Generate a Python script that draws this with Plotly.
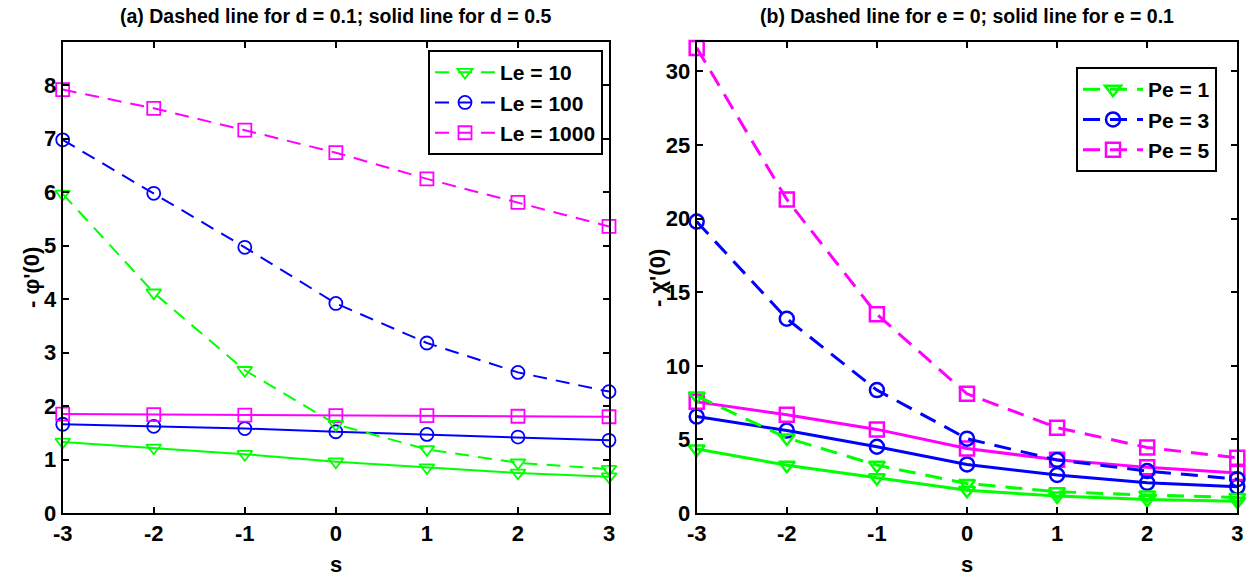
import plotly.graph_objects as go

# similarity variable
s = [-3, -2, -1, 0, 1, 2, 3]
s_labels = ["-3", "-2", "-1", "0", "1", "2", "3"]

# -phi'(0): dashed for d = 0.1, solid for d = 0.5
phi_le10_d01 = [5.97, 4.12, 2.67, 1.66, 1.19, 0.94, 0.82]
phi_le100_d01 = [6.98, 5.98, 4.97, 3.92, 3.18, 2.63, 2.27]
phi_le1000_d01 = [7.92, 7.57, 7.16, 6.74, 6.25, 5.81, 5.36]
phi_le10_d05 = [1.33, 1.22, 1.10, 0.96, 0.85, 0.75, 0.68]
phi_le100_d05 = [1.66, 1.62, 1.58, 1.52, 1.47, 1.42, 1.36]
phi_le1000_d05 = [1.85, 1.84, 1.83, 1.82, 1.82, 1.81, 1.80]

# -chi'(0): dashed for e = 0, solid for e = 0.1
chi_pe1_e0 = [7.95, 5.10, 3.25, 2.00, 1.45, 1.22, 1.05]
chi_pe3_e0 = [19.8, 13.2, 8.35, 5.05, 3.60, 2.85, 2.30]
chi_pe5_e0 = [31.6, 21.3, 13.5, 8.10, 5.80, 4.45, 3.75]
chi_pe1_e01 = [4.35, 3.25, 2.40, 1.55, 1.15, 0.92, 0.80]
chi_pe3_e01 = [6.55, 5.60, 4.50, 3.30, 2.58, 2.05, 1.78]
chi_pe5_e01 = [7.55, 6.68, 5.68, 4.38, 3.62, 3.10, 2.72]

phi_ticks = [0, 1, 2, 3, 4, 5, 6, 7, 8]
chi_ticks = [0, 5, 10, 15, 20, 25, 30]

le_labels = ["Le = 10", "Le = 100", "Le = 1000"]
pe_labels = ["Pe = 1", "Pe = 3", "Pe = 5"]

GREEN, BLUE, MAGENTA = "#00FF00", "#0000FF", "#FF00FF"
colors = [GREEN, BLUE, MAGENTA]
symbols = ["triangle-down-open", "circle-open", "square-open"]
FONT = "Liberation Sans, Arial, Helvetica, sans-serif"

W, H = 1247, 581
T, B = 42, 68
PH = H - T - B
fig = go.Figure()

left_dashed = [phi_le10_d01, phi_le100_d01, phi_le1000_d01]
left_solid = [phi_le10_d05, phi_le100_d05, phi_le1000_d05]
right_dashed = [chi_pe1_e0, chi_pe3_e0, chi_pe5_e0]
right_solid = [chi_pe1_e01, chi_pe3_e01, chi_pe5_e01]

for i in range(3):
    fig.add_trace(go.Scatter(
        x=s, y=left_solid[i], mode="lines+markers", showlegend=False,
        line=dict(color=colors[i], width=2),
        marker=dict(symbol=symbols[i], size=13, color=colors[i], line=dict(width=1.8, color=colors[i])),
        cliponaxis=False, xaxis="x", yaxis="y"))
for i in range(3):
    fig.add_trace(go.Scatter(
        x=s, y=left_dashed[i], mode="lines+markers", name=le_labels[i], legend="legend",
        line=dict(color=colors[i], width=2, dash="14px,9px"),
        marker=dict(symbol=symbols[i], size=13, color=colors[i], line=dict(width=1.8, color=colors[i])),
        cliponaxis=False, xaxis="x", yaxis="y"))
for i in range(3):
    fig.add_trace(go.Scatter(
        x=s, y=right_solid[i], mode="lines+markers", showlegend=False,
        line=dict(color=colors[i], width=3),
        marker=dict(symbol=symbols[i], size=14, color=colors[i], line=dict(width=2.5, color=colors[i])),
        cliponaxis=False, xaxis="x2", yaxis="y2"))
for i in range(3):
    fig.add_trace(go.Scatter(
        x=s, y=right_dashed[i], mode="lines+markers", name=pe_labels[i], legend="legend2",
        line=dict(color=colors[i], width=3, dash="17px,10px"),
        marker=dict(symbol=symbols[i], size=14, color=colors[i], line=dict(width=2.5, color=colors[i])),
        cliponaxis=False, xaxis="x2", yaxis="y2"))

tick_font = dict(family=FONT, size=22, color="black", weight="bold")
axis_common = dict(showline=True, linecolor="black", linewidth=2, mirror="allticks",
                   ticks="inside", ticklen=6, tickwidth=1.5, tickcolor="black",
                   showgrid=False, zeroline=False, tickfont=tick_font, automargin=False)

L0, L1 = 62.7 / W, 609 / W
R0, R1 = 696.7 / W, 1237.3 / W


def px(xp):
    return xp / W


def py(yp):
    # paper y coordinate for a pixel row, measured against the plot area
    return (H - B - yp) / PH


legend_font = dict(family=FONT, size=21, color="black", weight="bold")

fig.update_layout(
    width=W, height=H,
    margin=dict(l=0, r=0, t=T, b=B, autoexpand=False),
    paper_bgcolor="white", plot_bgcolor="white",
    xaxis=dict(domain=[L0, L1], range=[-3, 3], tickvals=s, ticktext=s_labels, anchor="y", **axis_common),
    yaxis=dict(domain=[0, 1], range=[0, 8.81], tickvals=phi_ticks, anchor="x", **axis_common),
    xaxis2=dict(domain=[R0, R1], range=[-3, 3], tickvals=s, ticktext=s_labels, anchor="y2", **axis_common),
    yaxis2=dict(domain=[0, 1], range=[0, 32], tickvals=chi_ticks, anchor="x2", **axis_common),
    legend=dict(x=603 / W, y=py(50), xanchor="right", yanchor="top",
                bgcolor="white", bordercolor="black", borderwidth=2,
                font=legend_font, itemwidth=60, tracegroupgap=0),
    legend2=dict(x=1217 / W, y=py(67), xanchor="right", yanchor="top",
                 bgcolor="white", bordercolor="black", borderwidth=2,
                 font=legend_font, itemwidth=60, tracegroupgap=0),
    showlegend=True,
)

title_font = dict(family=FONT, size=19.5, color="black", weight="bold")
fig.add_annotation(text="(a) Dashed line for d = 0.1; solid line for d = 0.5",
                   x=(L0 + L1) / 2, y=py(16), xref="paper", yref="paper",
                   yanchor="middle", xanchor="center", showarrow=False, font=title_font)
fig.add_annotation(text="(b) Dashed line for e = 0; solid line for e = 0.1",
                   x=(R0 + R1) / 2, y=py(16), xref="paper", yref="paper",
                   yanchor="middle", xanchor="center", showarrow=False, font=title_font)

fig.add_annotation(text="s", x=(L0 + L1) / 2, y=py(564), xref="paper", yref="paper",
                   showarrow=False, font=tick_font, yanchor="middle", xanchor="center")
fig.add_annotation(text="s", x=(R0 + R1) / 2, y=py(564), xref="paper", yref="paper",
                   showarrow=False, font=tick_font, yanchor="middle", xanchor="center")
fig.add_annotation(text="- \u03c6'(0)", x=px(31), y=py(278), xref="paper", yref="paper",
                   showarrow=False, font=tick_font, textangle=-90,
                   xanchor="center", yanchor="middle")
fig.add_annotation(text="- \u03c7'(0)", x=px(657), y=py(278), xref="paper", yref="paper",
                   showarrow=False, font=tick_font, textangle=-90,
                   xanchor="center", yanchor="middle")

fig.write_html("out.html")
